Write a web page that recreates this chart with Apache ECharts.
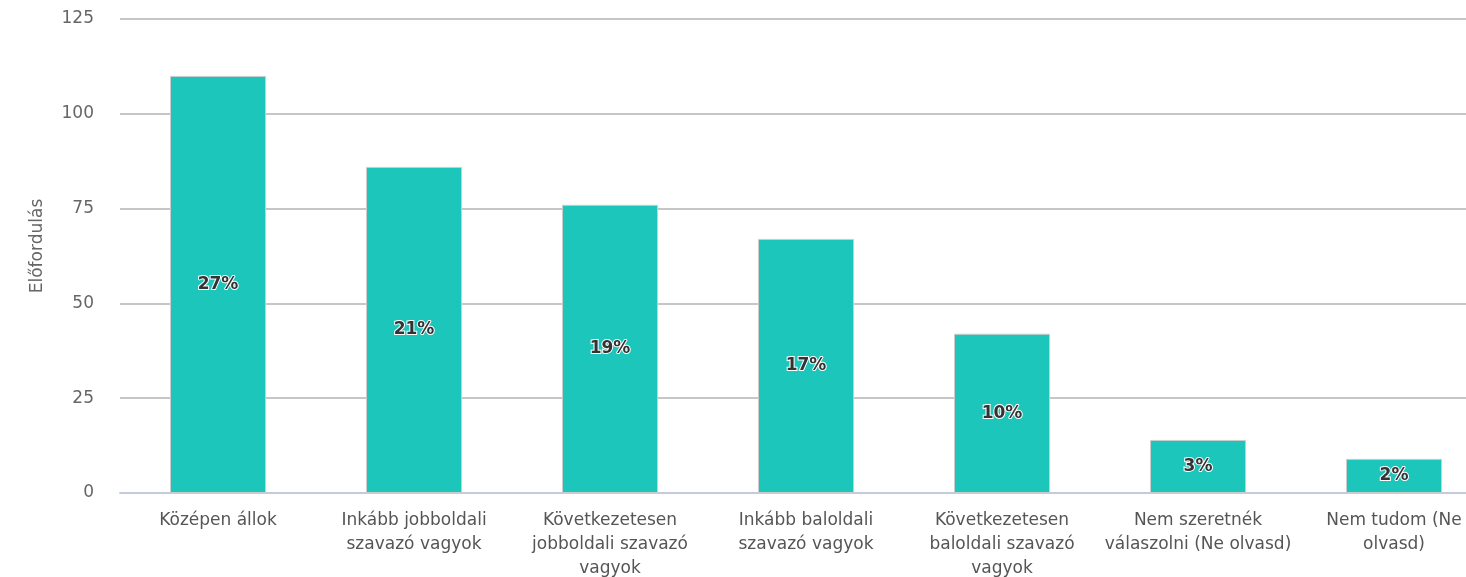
<!DOCTYPE html>
<html>
<head>
<meta charset="utf-8">
<script src="https://cdn.jsdelivr.net/npm/echarts@6/dist/echarts.min.js"></script>
<style>
html,body{margin:0;padding:0;background:#fff;}
#chart{width:1466px;height:577px;}
</style>
</head>
<body>
<div id="chart"></div>
<script>
const categories = [
  'Középen állok',
  'Inkább jobboldali\nszavazó vagyok',
  'Következetesen\njobboldali szavazó\nvagyok',
  'Inkább baloldali\nszavazó vagyok',
  'Következetesen\nbaloldali szavazó\nvagyok',
  'Nem szeretnék\nválaszolni (Ne olvasd)',
  'Nem tudom (Ne\nolvasd)'
];
const values = [110, 86, 76, 67, 42, 14, 9];
const percentLabels = ['27%', '21%', '19%', '17%', '10%', '3%', '2%'];
const yTicks = [0, 25, 50, 75, 100, 125];
const yAxisName = 'Előfordulás';

const FONT = '"DejaVu Sans", Verdana, sans-serif';
const chart = echarts.init(document.getElementById('chart'), null, {renderer: 'canvas'});
chart.setOption({
  animation: false,
  backgroundColor: '#ffffff',
  grid: {left: 120, top: 19, width: 1372, bottom: 84, containLabel: false, outerBoundsMode: 'none'},
  xAxis: {
    type: 'category',
    data: categories,
    axisLine: {show: true, lineStyle: {color: '#c4cbe0', width: 2}},
    axisTick: {show: false},
    axisLabel: {
      interval: 0,
      color: '#555555',
      fontFamily: FONT,
      fontSize: 17,
      lineHeight: 24,
      margin: 16
    }
  },
  yAxis: {
    type: 'value',
    min: yTicks[0],
    max: yTicks[yTicks.length - 1],
    interval: 25,
    name: yAxisName,
    nameLocation: 'middle',
    nameGap: 74,
    nameRotate: 90,
    nameTextStyle: {color: '#666666', fontFamily: FONT, fontSize: 17, padding: [0, 0, 0, 20]},
    axisLine: {show: false},
    axisTick: {show: false},
    axisLabel: {color: '#666666', fontFamily: FONT, fontSize: 17, margin: 26},
    splitLine: {lineStyle: {color: '#c6c6c6', width: 2}}
  },
  series: [{
    type: 'bar',
    data: values,
    barWidth: 96,
    itemStyle: {color: '#1dc6bb', borderColor: '#cccccc', borderWidth: 1},
    label: {
      show: true,
      position: 'inside',
      formatter: p => percentLabels[p.dataIndex],
      color: '#333333',
      fontFamily: FONT,
      fontSize: 17,
      fontWeight: 'bold',
      textBorderColor: '#ffffff',
      textBorderWidth: 2
    }
  }]
});
</script>
</body>
</html>
